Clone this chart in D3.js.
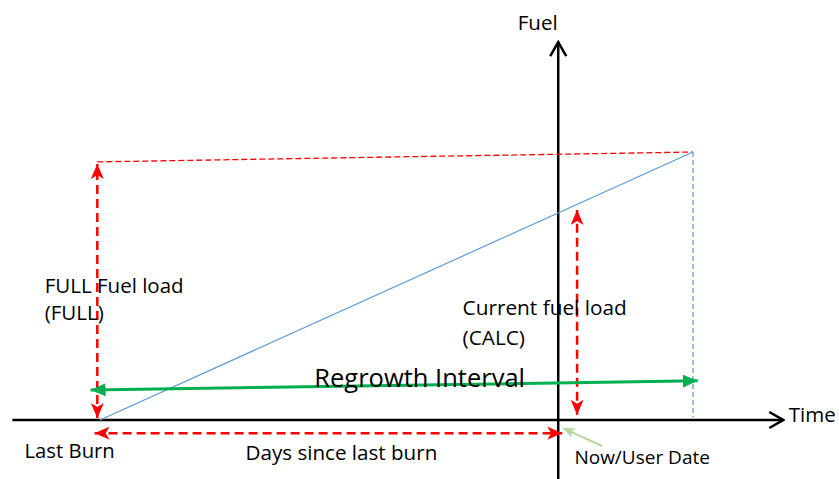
<!DOCTYPE html>
<html lang="en">
<head>
  <meta charset="UTF-8">
  <title>Fuel regrowth</title>
  <script src="https://d3js.org/d3.v7.min.js"></script>
  <style>
    body { margin: 0; background: #fff; font-family: 'Open Sans', sans-serif; }
    text { fill: #000; }
  </style>
</head>
<body>
  <div id="chart"></div>

  <script>
    // days since last burn, fuel in % of FULL
    const timeExtent = [-65, 507];
    const fuelExtent = [-22, 141];
    const growthLine = [{ day: 0, fuel: 0 }, { day: 440, fuel: 100 }];
    const fullLevel = [{ day: -2, fuel: 96.3 }, { day: 440, fuel: 100 }];
    const regrowthEnd = [{ day: 440, fuel: 100 }, { day: 440, fuel: 1 }];
    const fullArrow = [{ day: -2, fuel: 0.7 }, { day: -2, fuel: 95.5 }];
    const calcArrow = [{ day: 354, fuel: 2 }, { day: 354, fuel: 78.4 }];
    const daysArrow = [{ day: -4, fuel: -4.9 }, { day: 343, fuel: -4.9 }];
    const regrowthArrow = [{ day: -7, fuel: 11.2 }, { day: 443.5, fuel: 14.6 }];
    const nowPointer = [{ day: 372.5, fuel: -9.7 }, { day: 343.5, fuel: -3 }];
    const nowDay = 340;

    const labels = [
      { text: "Fuel", day: nowDay - 30, fuel: 145.5, size: 20.5 },
      { text: "Time", day: 511, fuel: -0.6, size: 20.5 },
      { text: "FULL Fuel load", day: -41, fuel: 47.5, size: 20.5 },
      { text: "(FULL)", day: -41, fuel: 37.5, size: 20.5 },
      { text: "Current fuel load", day: 269, fuel: 39, size: 20.8 },
      { text: "(CALC)", day: 269, fuel: 28, size: 20.8 },
      { text: "Regrowth Interval", day: 159, fuel: 12.5, size: 25.5 },
      { text: "Last Burn", day: -56, fuel: -14, size: 20.3 },
      { text: "Days since last burn", day: 108, fuel: -15, size: 20.6 },
      { text: "Now/User Date", day: 352, fuel: -16.5, size: 19 }
    ];

    const width = 839, height = 479;

    const x = d3.scaleLinear().domain([0, 440]).range([100, 693]);
    const y = d3.scaleLinear().domain([0, 100]).range([420, 152]);

    const svg = d3.select("#chart")
      .append("svg")
      .attr("width", width)
      .attr("height", height);

    const defs = svg.append("defs");

    // red stealth head
    defs.append("marker")
      .attr("id", "head-red")
      .attr("viewBox", "0 0 15 13")
      .attr("refX", 15).attr("refY", 6.5)
      .attr("markerWidth", 15).attr("markerHeight", 13)
      .attr("markerUnits", "userSpaceOnUse")
      .attr("orient", "auto-start-reverse")
      .append("path")
      .attr("d", "M0,0 L15,6.5 L0,13 L4,6.5 Z")
      .attr("fill", "#ff0000");

    // green triangle
    defs.append("marker")
      .attr("id", "head-green")
      .attr("viewBox", "0 0 15 13")
      .attr("refX", 15).attr("refY", 6.5)
      .attr("markerWidth", 15).attr("markerHeight", 13)
      .attr("markerUnits", "userSpaceOnUse")
      .attr("orient", "auto-start-reverse")
      .append("path")
      .attr("d", "M0,0 L15,6.5 L0,13 Z")
      .attr("fill", "#00b050");

    // open black chevron for the axes
    defs.append("marker")
      .attr("id", "head-black")
      .attr("viewBox", "-2 -2 18 20")
      .attr("refX", 14).attr("refY", 8)
      .attr("markerWidth", 18).attr("markerHeight", 20)
      .attr("markerUnits", "userSpaceOnUse")
      .attr("orient", "auto")
      .append("path")
      .attr("d", "M0,0 L14,8 L0,16")
      .attr("fill", "none")
      .attr("stroke", "#000")
      .attr("stroke-width", 2.5);

    defs.append("marker")
      .attr("id", "head-lightgreen")
      .attr("viewBox", "0 0 12 10")
      .attr("refX", 12).attr("refY", 5)
      .attr("markerWidth", 12).attr("markerHeight", 10)
      .attr("markerUnits", "userSpaceOnUse")
      .attr("orient", "auto")
      .append("path")
      .attr("d", "M0,0 L12,5 L0,10 L3,5 Z")
      .attr("fill", "#b4d8a0");

    const line = d3.line().x(d => x(d.day)).y(d => y(d.fuel));

    // axes
    svg.append("path")
      .datum([{ day: timeExtent[0], fuel: 0 }, { day: timeExtent[1], fuel: 0 }])
      .attr("d", line)
      .attr("stroke", "#000").attr("stroke-width", 2.5).attr("fill", "none")
      .attr("marker-end", "url(#head-black)");

    svg.append("path")
      .datum([{ day: nowDay, fuel: fuelExtent[0] }, { day: nowDay, fuel: fuelExtent[1] }])
      .attr("d", line)
      .attr("stroke", "#000").attr("stroke-width", 2.5).attr("fill", "none")
      .attr("marker-end", "url(#head-black)");

    // thin reference lines
    svg.append("path")
      .datum(fullLevel)
      .attr("d", line)
      .attr("stroke", "#ff0000").attr("stroke-width", 1.3)
      .attr("stroke-dasharray", "6,3").attr("fill", "none");

    svg.append("path")
      .datum(regrowthEnd)
      .attr("d", line)
      .attr("stroke", "#5b9bd5").attr("stroke-width", 1.3)
      .attr("stroke-dasharray", "5,3").attr("fill", "none");

    svg.append("path")
      .datum(growthLine)
      .attr("d", line)
      .attr("stroke", "#5b9bd5").attr("stroke-width", 1.2).attr("fill", "none");

    // red double arrows
    [fullArrow, calcArrow, daysArrow].forEach(pts => {
      svg.append("path")
        .datum(pts)
        .attr("d", line)
        .attr("stroke", "#ff0000").attr("stroke-width", 2.5)
        .attr("stroke-dasharray", "9,5").attr("fill", "none")
        .attr("marker-start", "url(#head-red)")
        .attr("marker-end", "url(#head-red)");
    });

    // regrowth interval
    svg.append("path")
      .datum(regrowthArrow)
      .attr("d", line)
      .attr("stroke", "#00b050").attr("stroke-width", 3).attr("fill", "none")
      .attr("marker-start", "url(#head-green)")
      .attr("marker-end", "url(#head-green)");

    svg.append("path")
      .datum(nowPointer)
      .attr("d", line)
      .attr("stroke", "#b4d8a0").attr("stroke-width", 2).attr("fill", "none")
      .attr("marker-end", "url(#head-lightgreen)");

    svg.selectAll("text.label")
      .data(labels)
      .enter()
      .append("text")
      .attr("class", "label")
      .attr("x", d => x(d.day))
      .attr("y", d => y(d.fuel))
      .attr("font-size", d => d.size)
      .text(d => d.text);
  </script>
</body>
</html>
